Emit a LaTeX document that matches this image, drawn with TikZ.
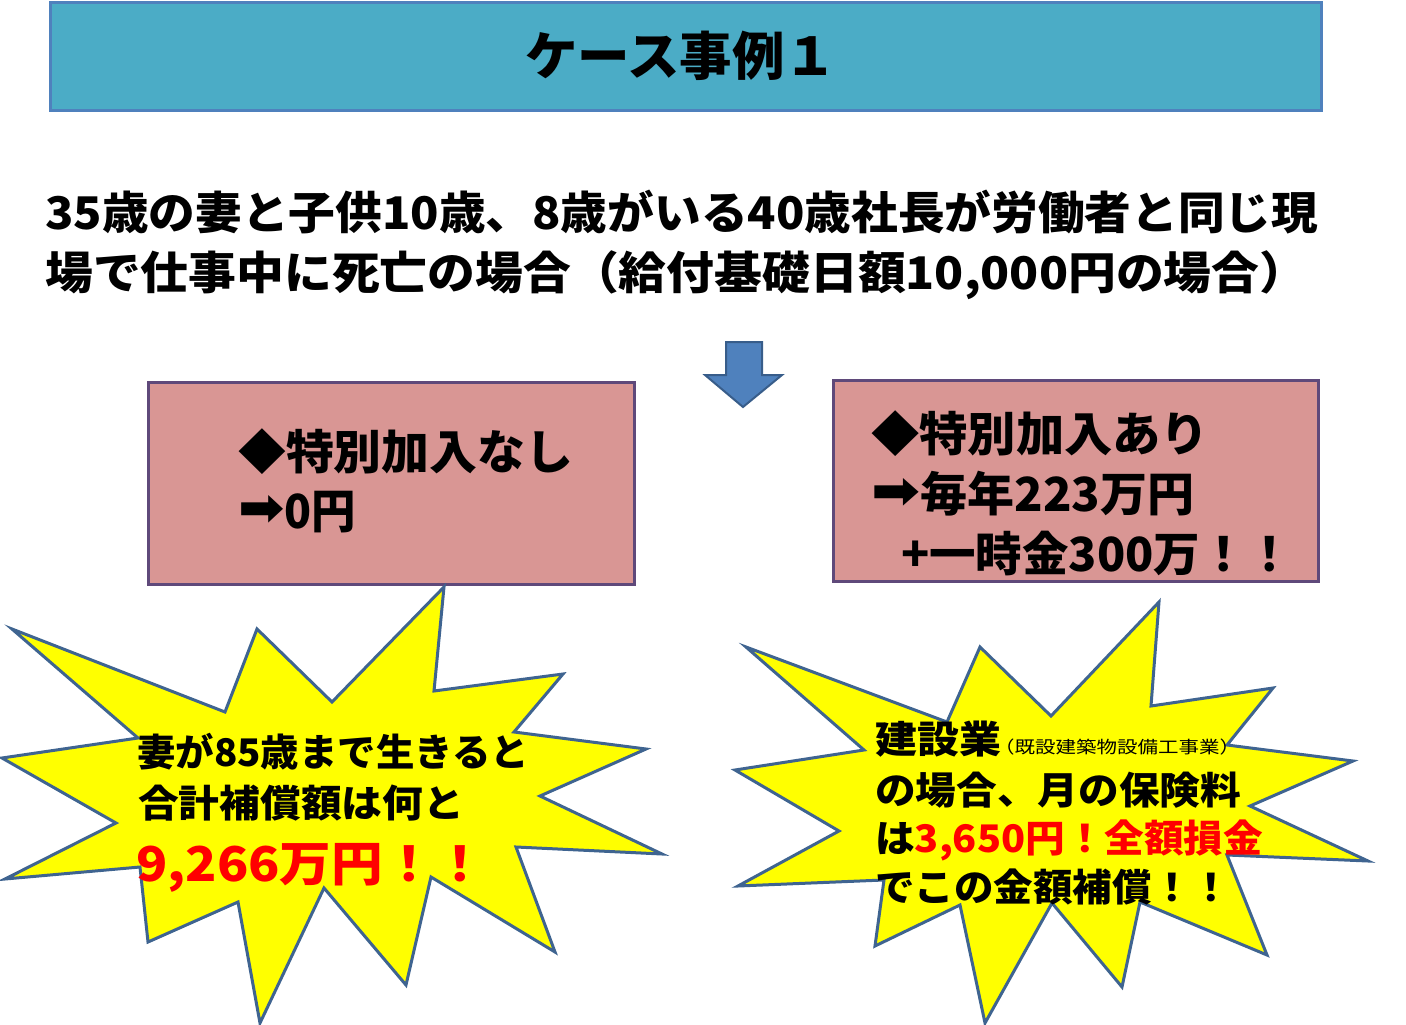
\documentclass[tikz,border=0pt]{standalone}
\usepackage{fontspec}
\usepackage{graphicx}
\setmainfont{Noto Sans CJK JP}
\newfontfamily\symfont{DejaVu Sans}
\definecolor{titlefill}{HTML}{4BACC6}
\definecolor{titleline}{HTML}{4F81BD}
\definecolor{boxfill}{HTML}{D99694}
\definecolor{boxline}{HTML}{5F497A}
\definecolor{arrowfill}{HTML}{4F81BD}
\definecolor{arrowline}{HTML}{385D8A}
\definecolor{starline}{HTML}{3F6490}
\definecolor{starfill}{HTML}{FFFF00}
\definecolor{redtxt}{HTML}{FF0000}
\newcommand\fitw[2]{\resizebox{#1}{\height}{#2}}
\newcommand\rarr{\raisebox{0.05em}{\scalebox{1.25}[1.1]{\symfont ➡}}}
\tikzset{
  titlebox/.style={draw=titleline, fill=titlefill, line width=3pt},
  infobox/.style={draw=boxline, fill=boxfill, line width=3pt},
  star/.style={draw=starline, fill=starfill, line width=3pt, line join=miter},
  txt/.style={anchor=base west, inner sep=0pt, font=\bfseries},
}
\begin{document}
\begin{tikzpicture}[x=1pt,y=-1pt]
\useasboundingbox (0,0) rectangle (1406,1025);
% title
\draw[titlebox] (50,3) rectangle (1321,110);
\node[txt, font=\bfseries\fontsize{52}{60}\selectfont] (title) at (525,76) {\fitw{312pt}{ケース事例１}};
% body text
\node[txt, font=\bfseries\fontsize{45}{52}\selectfont] (l1) at (45,229) {\fitw{1273pt}{35歳の妻と子供10歳、8歳がいる40歳社長が労働者と同じ現}};
\node[txt, font=\bfseries\fontsize{45}{52}\selectfont] (l2) at (45,289) {\fitw{1262pt}{場で仕事中に死亡の場合（給付基礎日額10,000円の場合）}};
% down arrow
\draw[draw=arrowline, fill=arrowfill, line width=2pt, line join=miter]
  (726,342) -- (762,342) -- (762,375) -- (782,375) -- (743,407) -- (705,375) -- (726,375) -- cycle;
% boxes
\draw[infobox] (148,382) rectangle (634,584);
\draw[infobox] (833,380) rectangle (1318,581);
\node[txt, font=\bfseries\fontsize{47}{56}\selectfont] (a1) at (238,469) {\fitw{335pt}{◆特別加入なし}};
\node[txt, font=\bfseries\fontsize{47}{56}\selectfont] (a2) at (238,528) {\fitw{118pt}{\rarr 0円}};
\node[txt, font=\bfseries\fontsize{47}{56}\selectfont] (b1) at (871,451) {\fitw{338pt}{◆特別加入あり}};
\node[txt, font=\bfseries\fontsize{47}{56}\selectfont] (b2) at (871,511) {\fitw{323pt}{\rarr 毎年223万円}};
\node[txt, font=\bfseries\fontsize{47}{56}\selectfont] (b3) at (901,571) {\fitw{392pt}{+一時金300万！！}};
% left star
\draw[star] (444,587) -- (434,691) -- (563,674) -- (514,732) -- (646,749) -- (540,796)
  -- (662,854) -- (516,847) -- (555,952) -- (431,877) -- (406,985) -- (324,888)
  -- (260,1023) -- (238,902) -- (148,942) -- (140,867) -- (5,879) -- (116,823)
  -- (2,758) -- (138,738) -- (12,629) -- (225,712) -- (257,629) -- (332,702) -- cycle;
% right star
\draw[star] (1159,602) -- (1151,706) -- (1273,688) -- (1227,745) -- (1353,761) -- (1250,806)
  -- (1368,861) -- (1227,855) -- (1267,955) -- (1140,902) -- (1122,987) -- (1052,903)
  -- (985,1023) -- (960,905) -- (875,946) -- (884,880) -- (738,886) -- (839,831)
  -- (735,770) -- (864,750) -- (746,647) -- (947,722) -- (980,647) -- (1051,716) -- cycle;
% left star text
\node[txt, font=\bfseries\fontsize{38}{46}\selectfont] (s1) at (137,766) {\fitw{392pt}{妻が85歳まで生きると}};
\node[txt, font=\bfseries\fontsize{38}{46}\selectfont] (s2) at (138,817) {\fitw{326pt}{合計補償額は何と}};
\node[txt, font=\bfseries\fontsize{48}{56}\selectfont, text=redtxt] (s3) at (136,881) {\fitw{350pt}{9,266万円！！}};
% right star text
\node[txt, font=\bfseries\fontsize{38}{46}\selectfont] (r1) at (875,753) {\fitw{126pt}{建設業}};
\node[txt, font=\fontsize{17}{20}\selectfont] (r1b) at (994,753) {\fitw{246pt}{（既設建築物設備工事業）}};
\node[txt, font=\bfseries\fontsize{38}{46}\selectfont] (r2) at (875,804) {\fitw{366pt}{の場合、月の保険料}};
\node[txt, font=\bfseries\fontsize{38}{46}\selectfont] (r3) at (875,852) {\fitw{388pt}{は\textcolor{redtxt}{3,650円！全額損金}}};
\node[txt, font=\bfseries\fontsize{38}{46}\selectfont] (r4) at (875,901) {\fitw{356pt}{でこの金額補償！！}};
\end{tikzpicture}
\end{document}
